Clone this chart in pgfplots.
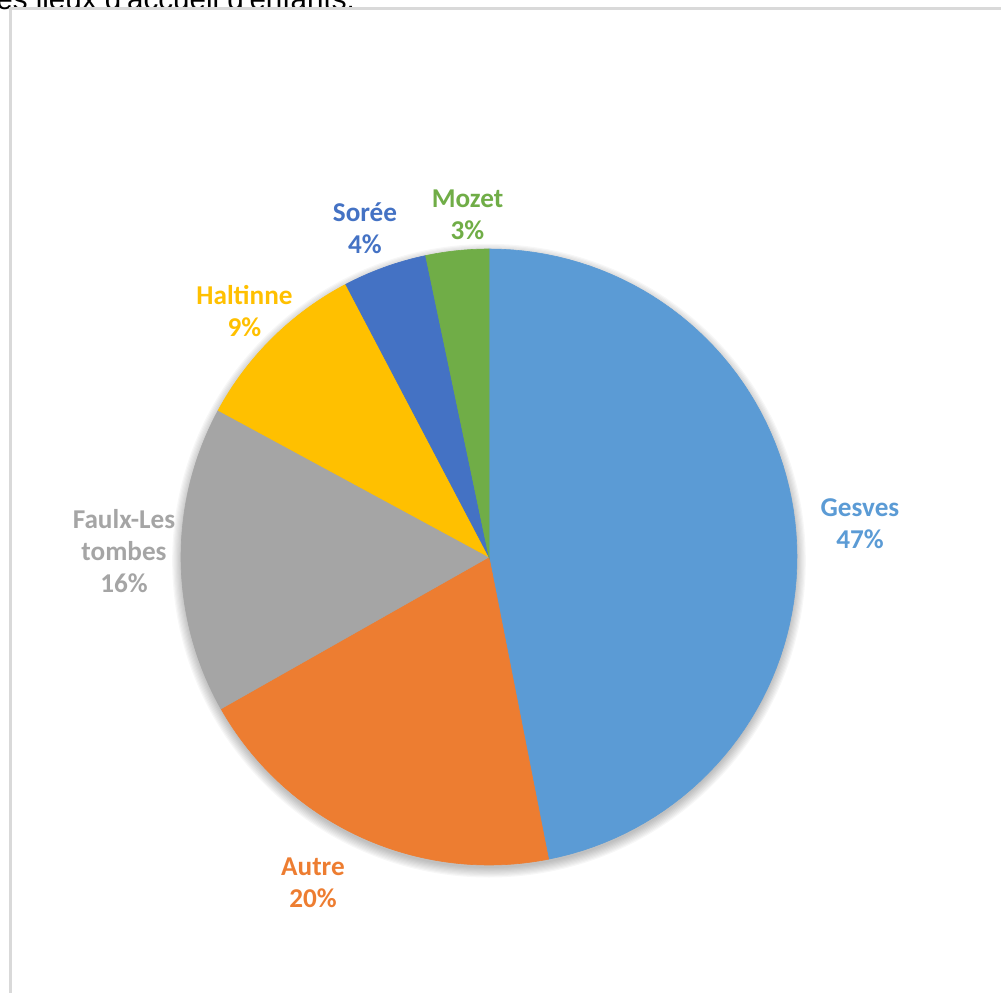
\documentclass[border=0pt]{standalone}
\usepackage{pgfplots}
\pgfplotsset{compat=1.18}
\usepackage{pgfplotstable}
\usepackage{fontspec}
\setmainfont{Carlito}
\newfontfamily\arialfont{Liberation Sans}

\definecolor{slice0}{HTML}{5B9BD5}
\definecolor{slice1}{HTML}{ED7D31}
\definecolor{slice2}{HTML}{A5A5A5}
\definecolor{slice3}{HTML}{FFC000}
\definecolor{slice4}{HTML}{4472C4}
\definecolor{slice5}{HTML}{70AD47}
\definecolor{frame}{HTML}{D9D9D9}

% share of each place (percent), clockwise from 12 o'clock
\pgfplotstableread{
name value
Gesves 46.9
Autre 19.9
Faulx 16.1
Haltinne 9.4
Soree 4.4
Mozet 3.3
}\piedata
\pgfplotstablecreatecol[expr accum={\pgfmathaccuma + \thisrow{value}}{0}]{cum}\piedata

\begin{document}
\begin{tikzpicture}
\begin{axis}[
  at={(0,0)}, anchor=origin,
  x=154pt, y=154pt,
  xmin=-1.1, xmax=1.1, ymin=-1.1, ymax=1.1,
  hide axis, clip=false,
]
% soft shadow, a bit heavier below
\pgfplotsinvokeforeach{1,...,9}{
  \fill[black,opacity=0.03] (axis cs:0,-0.012) circle[radius={153pt+#1*0.6pt}];
}
\pgfplotsinvokeforeach{0,...,5}{
  \pgfplotstablegetelem{#1}{cum}\of\piedata
  \pgfmathsetmacro\sliceend{\pgfplotsretval}
  \pgfplotstablegetelem{#1}{value}\of\piedata
  \pgfmathsetmacro\slicestart{\sliceend-\pgfplotsretval}
  \edef\doslice{\noexpand\addplot[fill=slice#1, draw=slice#1, line width=0.3pt,
      domain=\slicestart:\sliceend, samples=80, variable=\noexpand\t]
    ({cos(90-3.6*\noexpand\t)}, {sin(90-3.6*\noexpand\t)}) -- (axis cs:0,0) -- cycle;}
  \doslice
}
\end{axis}

% everything else in reference pixels (origin = pie centre at 489,557)
\begin{scope}[x=0.5pt,y=-0.5pt,shift={(-489,-557)}]
\node[anchor=base west,inner sep=0pt,font=\arialfont\fontsize{14.8}{16}\selectfont] at (-4,10) {es lieux d'accueil d'enfants.};
\draw[frame,line width=1.2pt] (10.5,1000) -- (10.5,8.7) -- (1010,8.7);
\begin{scope}[every node/.style={align=center,inner sep=0pt,font=\bfseries\fontsize{13.6}{16}\selectfont}]
\node[text=slice0] at (860,524) {Gesves\\47\%};
\node[text=slice1] at (313,883) {Autre\\20\%};
\node[text=slice2] at (124,551) {Faulx-Les\\tombes\\16\%};
\node[text=slice3] at (244.5,311) {Haltinne\\9\%};
\node[text=slice4] at (365,228) {Sorée\\4\%};
\node[text=slice5] at (467.5,215) {Mozet\\3\%};
\end{scope}
\pgfresetboundingbox
\useasboundingbox (0,0) rectangle (1001,992);
\end{scope}
\end{tikzpicture}
\end{document}
